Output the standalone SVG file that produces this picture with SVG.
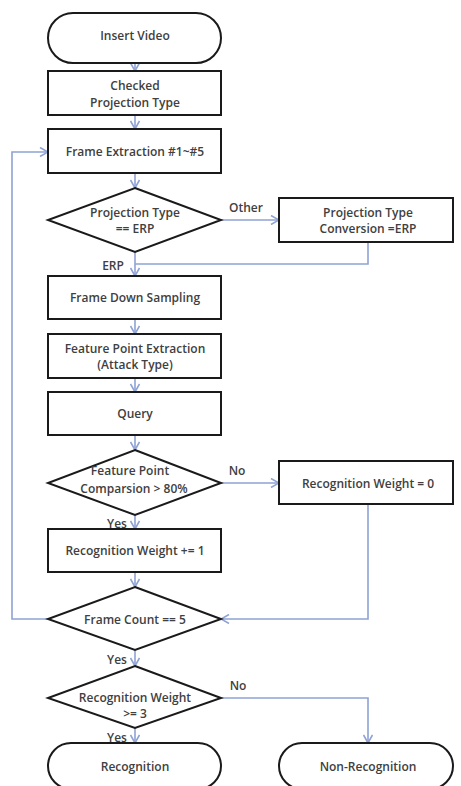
<svg xmlns="http://www.w3.org/2000/svg" width="461" height="786" viewBox="0 0 461 786">
<defs>
<style>
.shape{fill:#fff;stroke:#1a1a1a;stroke-width:2}
.t{font-family:"Open Sans","Liberation Sans",sans-serif;font-size:12px;font-weight:600;fill:#404040;text-anchor:middle;dominant-baseline:central}
.c{fill:none;stroke:#8fa2d4;stroke-width:1.6}
</style>
<marker id="ah" viewBox="0 0 10 10" refX="9" refY="5" markerWidth="10" markerHeight="10" markerUnits="userSpaceOnUse" orient="auto">
<path d="M1,0.5 L9,5 L1,9.5" fill="none" stroke="#8fa2d4" stroke-width="1.6"/>
</marker>
</defs>
<rect width="461" height="786" fill="#fff"/>
<g id="connectors">
<path class="c" d="M135,63 V71" marker-end="url(#ah)"/>
<path class="c" d="M135,115 V129" marker-end="url(#ah)"/>
<path class="c" d="M135,173 V188" marker-end="url(#ah)"/>
<path class="c" d="M221,220 H279" marker-end="url(#ah)"/>
<path class="c" d="M368,242 V264 H135"/>
<path class="c" d="M135,252 V276" marker-end="url(#ah)"/>
<path class="c" d="M135,319 V334" marker-end="url(#ah)"/>
<path class="c" d="M135,378 V392" marker-end="url(#ah)"/>
<path class="c" d="M135,435 V450" marker-end="url(#ah)"/>
<path class="c" d="M221,483 H279" marker-end="url(#ah)"/>
<path class="c" d="M135,515 V529" marker-end="url(#ah)"/>
<path class="c" d="M135,572 V587" marker-end="url(#ah)"/>
<path class="c" d="M368,504 V619 H221" marker-end="url(#ah)"/>
<path class="c" d="M48,619 H12 V152 H48" marker-end="url(#ah)"/>
<path class="c" d="M135,650 V666" marker-end="url(#ah)"/>
<path class="c" d="M221,698 H368 V743" marker-end="url(#ah)"/>
<path class="c" d="M135,728 V743" marker-end="url(#ah)"/>
<text class="t" x="246" y="207">Other</text>
<text class="t" x="113" y="265">ERP</text>
<text class="t" x="237" y="470">No</text>
<text class="t" x="117" y="523">Yes</text>
<text class="t" x="117" y="659">Yes</text>
<text class="t" x="238" y="685">No</text>
<text class="t" x="117" y="737">Yes</text>
</g>
<g id="insert-video">
<rect class="shape" x="48" y="13" width="173" height="50" rx="25" ry="25"/>
<text class="t" x="135" y="35">Insert Video</text>
</g>
<g id="checked-projection">
<rect class="shape" x="48" y="71" width="173" height="44"/>
<text class="t" x="135" y="85">Checked</text>
<text class="t" x="135" y="102">Projection Type</text>
</g>
<g id="frame-extraction">
<rect class="shape" x="48" y="129" width="173" height="44"/>
<text class="t" x="135" y="151">Frame Extraction #1~#5</text>
</g>
<g id="projection-decision">
<polygon class="shape" points="135,188 221,220 135,252 48,220"/>
<text class="t" x="135" y="212">Projection Type</text>
<text class="t" x="135" y="228">== ERP</text>
</g>
<g id="projection-conversion">
<rect class="shape" x="279" y="198" width="174" height="44"/>
<text class="t" x="368" y="212">Projection Type</text>
<text class="t" x="368" y="228">Conversion =ERP</text>
</g>
<g id="down-sampling">
<rect class="shape" x="48" y="276" width="173" height="43"/>
<text class="t" x="135" y="297">Frame Down Sampling</text>
</g>
<g id="feature-extraction">
<rect class="shape" x="48" y="334" width="173" height="44"/>
<text class="t" x="135" y="348">Feature Point Extraction</text>
<text class="t" x="135" y="364">(Attack Type)</text>
</g>
<g id="query">
<rect class="shape" x="48" y="392" width="173" height="43"/>
<text class="t" x="135" y="413">Query</text>
</g>
<g id="comparison-decision">
<polygon class="shape" points="135,450 221,483 135,515 48,483"/>
<text class="t" x="130" y="470">Feature Point</text>
<text class="t" x="134" y="488">Comparsion &gt; 80%</text>
</g>
<g id="weight-zero">
<rect class="shape" x="279" y="461" width="174" height="43"/>
<text class="t" x="368" y="483">Recognition Weight = 0</text>
</g>
<g id="weight-inc">
<rect class="shape" x="48" y="529" width="173" height="43"/>
<text class="t" x="135" y="550">Recognition Weight += 1</text>
</g>
<g id="frame-count-decision">
<polygon class="shape" points="135,587 221,619 135,650 48,619"/>
<text class="t" x="135" y="619">Frame Count == 5</text>
</g>
<g id="weight-decision">
<polygon class="shape" points="135,666 221,698 135,728 48,698"/>
<text class="t" x="135" y="697">Recognition Weight</text>
<text class="t" x="135" y="713">&gt;= 3</text>
</g>
<g id="recognition">
<rect class="shape" x="48" y="743" width="173" height="46" rx="23" ry="23"/>
<text class="t" x="135" y="766">Recognition</text>
</g>
<g id="non-recognition">
<rect class="shape" x="279" y="743" width="174" height="46" rx="23" ry="23"/>
<text class="t" x="368" y="766">Non-Recognition</text>
</g>
</svg>
